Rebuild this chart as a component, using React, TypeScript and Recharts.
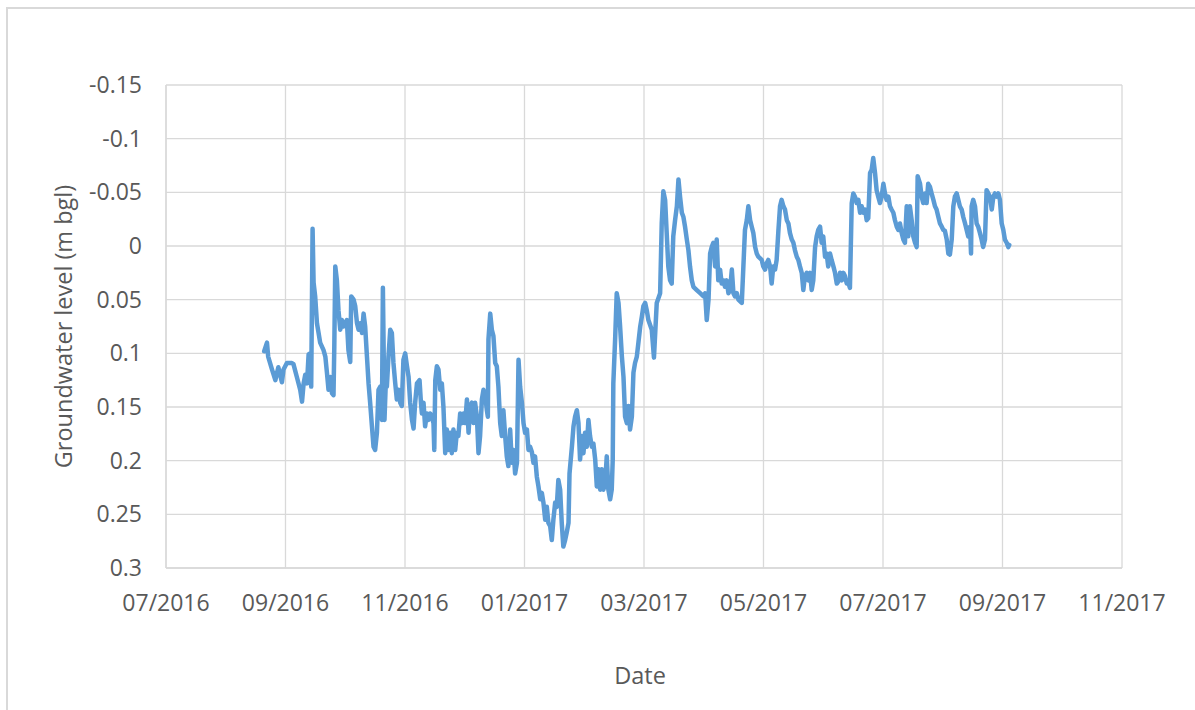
import React from 'react';
import { LineChart, Line, XAxis, YAxis, CartesianGrid, Label } from 'recharts';

// Days since the first axis tick ("07/2016")
const dayOffsets = [
  49.3, 50.7, 51.3, 53.2, 54.9, 56.4, 58.2, 59.0, 60.7, 63.2, 64.0, 65.7, 67.4, 68.3, 69.1, 69.9, 70.8, 71.6, 72.4, 72.9,
  73.6, 74.1, 74.9, 75.8, 76.6, 77.4, 79.1, 80.0, 80.8, 81.6, 82.5, 83.3, 84.1, 84.5, 85.0, 85.8, 86.6, 87.5, 88.3, 89.1,
  90.8, 91.6, 92.5, 93.0, 94.2, 95.0, 95.9, 96.7, 97.5, 98.4, 99.2, 100.0, 100.9, 101.7, 102.5, 103.4, 104.2, 105.0, 105.9, 106.7,
  107.6, 108.4, 108.9, 109.2, 109.7, 110.6, 110.9, 111.7, 112.6, 113.4, 114.2, 115.1, 115.9, 116.7, 117.6, 118.4, 119.2, 120.1, 121.0, 121.8,
  122.6, 123.5, 124.3, 125.1, 126.0, 127.3, 128.0, 128.5, 129.3, 130.1, 131.0, 131.8, 132.6, 133.5, 134.3, 134.7, 135.2, 136.0, 136.8, 137.7,
  138.5, 139.3, 140.2, 141.0, 141.8, 142.7, 143.5, 144.3, 145.2, 146.0, 146.8, 147.7, 148.6, 149.4, 150.2, 151.1, 151.9, 152.7, 153.6, 154.4,
  155.2, 156.1, 156.9, 157.7, 158.6, 159.4, 160.3, 161.1, 161.6, 161.9, 162.8, 163.6, 164.4, 165.3, 166.1, 166.9, 167.8, 168.6, 169.4, 170.3,
  171.1, 171.9, 172.8, 173.6, 174.5, 175.3, 176.2, 177.0, 177.8, 178.7, 179.5, 180.3, 181.2, 182.0, 182.8, 183.7, 184.5, 185.3, 186.2, 187.0,
  187.9, 188.7, 189.5, 190.4, 191.2, 192.0, 192.9, 193.7, 194.5, 195.4, 196.2, 197.0, 197.9, 198.7, 199.5, 200.4, 201.2, 202.1, 202.6, 203.8,
  204.6, 205.4, 206.3, 207.1, 207.9, 208.8, 209.6, 210.4, 211.3, 212.1, 212.9, 213.8, 214.6, 215.5, 216.3, 217.1, 218.0, 218.8, 219.6, 220.5,
  221.3, 222.1, 223.0, 223.8, 224.3, 224.6, 225.5, 226.3, 227.2, 228.0, 228.9, 229.7, 230.5, 231.4, 232.2, 233.0, 233.9, 234.7, 235.5, 236.4,
  237.2, 238.1, 238.9, 239.7, 240.6, 241.4, 242.2, 243.9, 245.0, 246.4, 248.1, 248.9, 249.7, 250.6, 251.4, 252.2, 253.1, 253.9, 254.7, 255.6,
  256.5, 257.3, 258.1, 259.0, 259.8, 260.6, 261.5, 262.3, 263.1, 264.0, 264.8, 266.5, 268.2, 269.9, 270.7, 271.5, 272.4, 273.2, 274.0, 274.8,
  275.7, 276.5, 277.3, 278.2, 279.0, 279.8, 280.7, 281.5, 282.4, 283.2, 284.1, 284.9, 285.7, 286.6, 287.4, 289.1, 289.9, 290.7, 291.6, 292.4,
  293.3, 294.1, 294.9, 295.8, 296.6, 297.4, 299.1, 299.9, 300.8, 301.6, 302.4, 303.3, 304.1, 304.9, 305.8, 306.6, 307.5, 308.3, 309.1, 310.0,
  310.8, 311.7, 312.5, 313.3, 314.2, 315.0, 315.8, 316.7, 317.5, 318.3, 319.2, 320.0, 320.8, 321.7, 322.5, 323.4, 324.2, 325.0, 325.9, 326.7,
  327.5, 328.4, 329.2, 330.0, 330.9, 331.7, 332.5, 333.4, 334.2, 335.1, 335.9, 336.8, 337.6, 338.4, 339.3, 340.1, 340.9, 341.8, 342.6, 343.4,
  344.3, 345.1, 345.9, 346.8, 347.6, 348.5, 349.3, 350.1, 351.0, 351.8, 352.6, 353.5, 354.3, 355.1, 356.0, 356.8, 357.6, 358.5, 359.3, 360.2,
  361.0, 361.8, 362.7, 363.5, 364.3, 365.2, 366.0, 366.9, 367.7, 368.5, 369.4, 370.2, 371.0, 371.9, 372.7, 373.5, 374.4, 375.2, 376.1, 376.9,
  377.4, 378.6, 379.4, 380.2, 381.1, 381.9, 382.7, 383.6, 384.4, 385.3, 386.1, 386.9, 387.8, 388.6, 389.5, 390.3, 391.1, 392.0, 392.8, 393.6,
  394.5, 395.3, 396.1, 397.0, 397.8, 398.6, 399.5, 400.3, 401.2, 402.0, 402.8, 403.7, 404.2, 404.5, 405.3, 406.2, 407.0, 407.8, 408.7, 409.5,
  410.3, 411.2, 412.0, 412.9, 413.7, 414.6, 415.4, 416.2, 417.1, 417.9, 418.7, 419.6, 420.4, 421.2, 422.1, 422.9, 423.4,
];

// Groundwater level (m below ground level)
const levels = [
  0.098, 0.090, 0.103, 0.115, 0.125, 0.113, 0.127, 0.115, 0.109, 0.109, 0.110, 0.122, 0.134, 0.145, 0.128, 0.120, 0.128, 0.101, 0.100, 0.131,
  -0.016, 0.034, 0.047, 0.072, 0.081, 0.090, 0.097, 0.103, 0.118, 0.134, 0.122, 0.137, 0.139, 0.094, 0.019, 0.032, 0.060, 0.078, 0.069, 0.075,
  0.069, 0.097, 0.108, 0.047, 0.050, 0.056, 0.072, 0.078, 0.072, 0.081, 0.063, 0.075, 0.103, 0.128, 0.146, 0.168, 0.187, 0.190, 0.174, 0.134,
  0.131, 0.162, 0.039, 0.084, 0.162, 0.115, 0.131, 0.103, 0.078, 0.081, 0.109, 0.128, 0.143, 0.134, 0.146, 0.149, 0.106, 0.100, 0.112, 0.122,
  0.146, 0.162, 0.170, 0.146, 0.128, 0.125, 0.146, 0.156, 0.146, 0.168, 0.156, 0.162, 0.156, 0.159, 0.165, 0.190, 0.125, 0.112, 0.115, 0.134,
  0.128, 0.150, 0.193, 0.171, 0.190, 0.174, 0.193, 0.171, 0.190, 0.174, 0.177, 0.156, 0.165, 0.156, 0.165, 0.143, 0.174, 0.149, 0.146, 0.165,
  0.146, 0.159, 0.193, 0.177, 0.143, 0.134, 0.140, 0.153, 0.159, 0.087, 0.063, 0.078, 0.084, 0.109, 0.112, 0.131, 0.165, 0.177, 0.153, 0.177,
  0.196, 0.205, 0.171, 0.202, 0.190, 0.212, 0.202, 0.106, 0.131, 0.146, 0.165, 0.174, 0.171, 0.190, 0.187, 0.192, 0.202, 0.196, 0.215, 0.224,
  0.236, 0.230, 0.239, 0.255, 0.243, 0.258, 0.261, 0.274, 0.255, 0.239, 0.243, 0.218, 0.227, 0.258, 0.280, 0.274, 0.267, 0.258, 0.212, 0.187,
  0.168, 0.159, 0.153, 0.165, 0.199, 0.177, 0.193, 0.174, 0.187, 0.162, 0.177, 0.187, 0.184, 0.199, 0.224, 0.208, 0.227, 0.208, 0.227, 0.221,
  0.196, 0.227, 0.236, 0.227, 0.199, 0.128, 0.087, 0.044, 0.053, 0.075, 0.103, 0.122, 0.159, 0.165, 0.149, 0.171, 0.159, 0.118, 0.109, 0.103,
  0.090, 0.075, 0.066, 0.056, 0.053, 0.060, 0.069, 0.078, 0.104, 0.053, 0.044, -0.021, -0.051, -0.043, -0.012, 0.019, 0.032, 0.035, -0.009, -0.024,
  -0.037, -0.062, -0.046, -0.031, -0.027, -0.018, -0.006, 0.004, 0.019, 0.032, 0.038, 0.041, 0.044, 0.047, 0.044, 0.069, 0.050, 0.007, 0.001, -0.003,
  0.019, -0.006, 0.032, 0.022, 0.035, 0.032, 0.038, 0.032, 0.044, 0.041, 0.022, 0.044, 0.047, 0.044, 0.050, 0.053, 0.019, -0.015, -0.024, -0.037,
  -0.024, -0.018, -0.012, 0.001, 0.007, 0.010, 0.013, 0.019, 0.022, 0.016, 0.013, 0.019, 0.035, 0.019, 0.022, 0.013, -0.015, -0.037, -0.043, -0.037,
  -0.034, -0.024, -0.021, -0.012, -0.006, -0.003, 0.004, 0.010, 0.013, 0.019, 0.025, 0.041, 0.028, 0.025, 0.032, 0.025, 0.041, 0.032, 0.001, -0.009,
  -0.015, -0.018, -0.003, -0.009, 0.010, 0.007, 0.019, 0.007, 0.013, 0.019, 0.025, 0.035, 0.033, 0.025, 0.032, 0.025, 0.028, 0.035, 0.034, 0.039,
  -0.040, -0.049, -0.046, -0.040, -0.043, -0.031, -0.037, -0.031, -0.034, -0.024, -0.026, -0.068, -0.071, -0.082, -0.068, -0.052, -0.046, -0.040, -0.046, -0.058,
  -0.049, -0.043, -0.046, -0.037, -0.034, -0.031, -0.024, -0.018, -0.015, -0.021, -0.012, -0.006, -0.003, -0.037, -0.009, -0.037, -0.024, -0.009, -0.003, 0.001,
  -0.065, -0.058, -0.046, -0.040, -0.049, -0.040, -0.058, -0.055, -0.049, -0.043, -0.037, -0.034, -0.027, -0.021, -0.018, -0.015, -0.014, -0.006, 0.007, 0.008,
  -0.006, -0.037, -0.046, -0.049, -0.043, -0.037, -0.034, -0.027, -0.021, -0.015, -0.009, -0.018, 0.007, -0.037, -0.043, -0.037, -0.021, -0.018, -0.012, -0.006,
  0.001, -0.006, -0.052, -0.049, -0.046, -0.034, -0.046, -0.049, -0.046, -0.049, -0.043, -0.021, -0.015, -0.006, -0.003, 0.001, -0.001,
];

const xTickDays = [0, 60, 120, 180, 240, 300, 360, 420, 480];
const xTickLabels = ['07/2016', '09/2016', '11/2016', '01/2017', '03/2017', '05/2017', '07/2017', '09/2017', '11/2017'];
const yTicks = [-0.15, -0.1, -0.05, 0, 0.05, 0.1, 0.15, 0.2, 0.25, 0.3];
const yTickLabels = ['-0.15', '-0.1', '-0.05', '0', '0.05', '0.1', '0.15', '0.2', '0.25', '0.3'];

const data = dayOffsets.map((d, i) => ({ day: d, level: levels[i] }));

const FONT = '"Open Sans", sans-serif';
const TEXT = '#595959';
const GRID = '#d9d9d9';

const YTitle = (props: any) => {
  const vb = props.viewBox || { x: 0, y: 85, width: 166, height: 483 };
  const cx = vb.x + 63;
  const cy = vb.y + vb.height / 2;
  return (
    <text
      x={cx}
      y={cy}
      transform={`rotate(-90, ${cx}, ${cy})`}
      textAnchor="middle"
      dominantBaseline="central"
      fontFamily={FONT}
      fontSize={23.5}
      fill={TEXT}
    >
      Groundwater level (m bgl)
    </text>
  );
};

const XTitle = (props: any) => {
  const vb = props.viewBox || { x: 166, y: 568, width: 956, height: 60 };
  return (
    <text
      x={640}
      y={vb.y + 107}
      textAnchor="middle"
      dominantBaseline="central"
      fontFamily={FONT}
      fontSize={23.5}
      fill={TEXT}
    >
      Date
    </text>
  );
};

export default function App() {
  return (
    <div style={{ position: 'absolute', left: 0, top: 0, width: 1195, height: 710, overflow: 'hidden', background: '#fff' }}>
      <div
        style={{
          position: 'absolute',
          left: 6,
          top: 7,
          width: 1300,
          height: 800,
          borderTop: `2px solid ${GRID}`,
          borderLeft: `2px solid ${GRID}`,
        }}
      />
      <div style={{ position: 'absolute', left: 0, top: 0 }}>
        <LineChart width={1195} height={710} data={data} margin={{ top: 85, right: 73, bottom: 82, left: 0 }}>
          <CartesianGrid stroke={GRID} strokeWidth={1.3} vertical horizontal />
          <XAxis
            dataKey="day"
            type="number"
            domain={[0, 480]}
            ticks={xTickDays}
            interval={0}
            height={60}
            tickLine={false}
            tickSize={0}
            tickMargin={27}
            axisLine={{ stroke: GRID, strokeWidth: 1.3 }}
            tickFormatter={(v: number) => xTickLabels[xTickDays.indexOf(v)]}
            tick={{ fill: TEXT, fontFamily: FONT, fontSize: 23 }}
          >
            <Label content={XTitle} />
          </XAxis>
          <YAxis
            type="number"
            domain={[-0.15, 0.3]}
            reversed
            ticks={yTicks}
            interval={0}
            width={166}
            tickLine={false}
            tickSize={0}
            tickMargin={24}
            axisLine={{ stroke: GRID, strokeWidth: 1.3 }}
            tickFormatter={(v: number) => yTickLabels[yTicks.indexOf(v)]}
            tick={{ fill: TEXT, fontFamily: FONT, fontSize: 23 }}
            allowDataOverflow
          >
            <Label content={YTitle} />
          </YAxis>
          <Line
            type="linear"
            dataKey="level"
            stroke="#5B9BD5"
            strokeWidth={4.5}
            strokeLinejoin="round"
            strokeLinecap="round"
            dot={false}
            activeDot={false}
            isAnimationActive={false}
          />
        </LineChart>
      </div>
    </div>
  );
}
